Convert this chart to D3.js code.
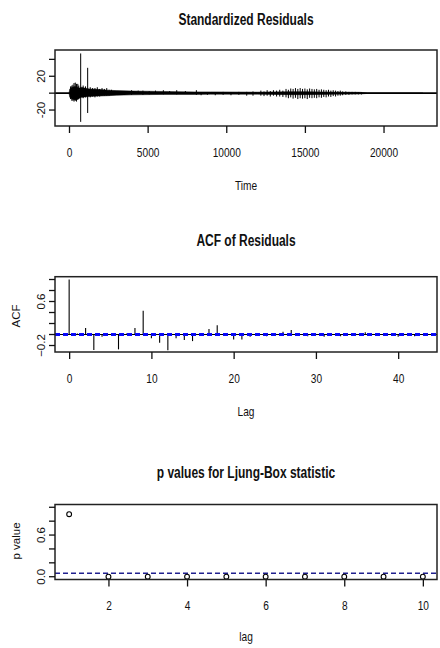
<!DOCTYPE html>
<html><head><meta charset="utf-8">
<script src="https://cdn.jsdelivr.net/npm/d3@7"></script>
<style>
html,body{margin:0;padding:0;background:#fff;}
svg text{font-family:"Liberation Sans",Arial,sans-serif;fill:#111;}
</style></head><body>
<svg id="c" width="440" height="648"></svg>
<script>
// ---------- Panel 1: standardized residuals ----------
// core envelope of the dense residual band
const bandTime  = [0, 50, 200, 380, 550, 650, 800, 1000, 1300, 1800, 2500, 3000, 4000, 6000, 8000, 9000, 12000, 13000, 14000, 15000, 16000, 17000, 18500, 19000, 22500];
const bandUpper = [0, 5, 7, 8, 7, 6, 7, 6, 5, 4.5, 3.5, 3, 2.5, 2, 1.5, 1.5, 1.2, 1.5, 1.8, 1.8, 1.5, 1.2, 1, 0.3, 0.2];
const bandLower = [0, -5, -7, -8, -7, -6, -5, -4.5, -4, -3.5, -3, -2.5, -2, -1.5, -1.5, -1.2, -1.2, -1.5, -1.8, -1.8, -1.5, -1.2, -1, -0.3, -0.2];
// individual spikes of the residual series
const spikeTime = [100, 180, 250, 320, 400, 480, 560, 620, 743, 1187, 900, 1050, 1350, 1500, 1650, 1800, 1950, 2100, 2250, 2400, 2550, 2700,
  3980, 4400, 4700, 5100, 5500, 6000, 6400, 6850, 7400, 8100,
  8400, 8800, 9300, 9800, 10300, 10800, 11300, 11700,
  12200, 12400, 12600, 12800, 13000, 13200, 13400, 13600, 13800, 13950, 14100, 14250, 14400, 14550, 14700, 14850,
  15000, 15150, 15300, 15450, 15600, 15750, 15900, 16050, 16200, 16350, 16500, 16650, 16800, 16950, 17100, 17250,
  17400, 17600, 17800, 18000, 18200, 18400, 18600];
const spikeHigh = [8, 9, 10, 12, 12.5, 11, 11, 9, 47, 30, 9, 8, 7, 6, 6, 7, 5, 6, 5, 6, 4, 4,
  3.5, 3, 3, 2.5, 3, 3.5, 2.5, 3.5, 2.5, 3.5,
  1, 1, 1, 1.5, 1, 1.5, 1.5, 2,
  3, 2, 3.5, 2.5, 3.5, 3, 4, 3, 5, 4, 5.5, 5, 6, 5, 6, 5,
  5.5, 4.5, 5.5, 5, 4.5, 5, 4, 4.5, 4, 3.5, 4, 3, 3.5, 3, 2.5, 3,
  2, 2, 1.5, 1.5, 1.5, 1, 1];
const spikeLow = [-7, -9, -9, -10, -9, -10, -8, -7, -34, -23.5, -6, -5, -5, -4, -5, -4, -4, -3, -3, -3, -3, -2,
  -2, -1, -2, -1.5, -1, -1.5, -1, -1.5, -1, -2,
  -2.5, -2, -2.5, -2, -2.5, -2, -3, -3,
  -3, -3.5, -3, -4, -3, -4, -4, -4.5, -5, -6, -5, -6.5, -5.5, -7, -6, -6.5,
  -6, -7, -5.5, -6, -5.5, -6, -5, -5.5, -4.5, -5, -4, -4.5, -3.5, -4, -3, -3,
  -2.5, -2, -2, -1.5, -1.5, -1.5, -1.5];
const resXTicks = [0, 5000, 10000, 15000, 20000];
const resYTicks = [-20, 0, 20, 40];
const resYLabels = [-20, 20];

// ---------- Panel 2: ACF of residuals (lags 0..43) ----------
const acfValues = [1.0, 0.02, 0.12, -0.28, -0.04, 0.01, -0.27, 0.02, 0.12, 0.43,
  -0.07, -0.15, -0.285, -0.07, -0.10, -0.12, -0.02, 0.10, 0.17, 0.01,
  -0.09, -0.09, -0.04, 0.01, -0.03, 0.01, 0.05, 0.08, 0.01, -0.03,
  0.01, -0.04, 0.01, -0.03, 0.01, 0.01, 0.04, 0.01, -0.01, 0.01,
  -0.04, 0.01, -0.03, 0.01];
const acfCI = [0.013, -0.013];
const acfXTicks = [0, 10, 20, 30, 40];
const acfYTicks = [-0.2, 0, 0.2, 0.4, 0.6, 0.8, 1.0];
const acfYLabels = [-0.2, 0.6];

// ---------- Panel 3: Ljung-Box p values ----------
const pLags = [1, 2, 3, 4, 5, 6, 7, 8, 9, 10];
const pValues = [0.90, 0.0, 0.0, 0.0, 0.0, 0.0, 0.0, 0.0, 0.0, 0.0];
const pThreshold = 0.05;
const pXTicks = [2, 4, 6, 8, 10];
const pYTicks = [0, 0.2, 0.4, 0.6, 0.8, 1.0];
const pYLabels = [0.0, 0.6];

const svg = d3.select("#c");
const L = 55, R = 437;
const SX = 0.75; // horizontal condensing of the text

function frame(g, top, bottom) {
  g.append("rect").attr("x", L).attr("y", top).attr("width", R - L).attr("height", bottom - top)
    .attr("fill", "none").attr("stroke", "#222").attr("stroke-width", 1.5);
}
function xAxis(x, ticks, bottom, fmt) {
  const ax = d3.axisBottom(x).tickValues(ticks).tickSize(7).tickPadding(14).tickFormat(fmt);
  const g = svg.append("g").attr("transform", `translate(0,${bottom})`).call(ax);
  g.select(".domain").remove();
  g.selectAll(".tick line").attr("stroke", "#111").attr("stroke-width", 1.3);
  g.selectAll(".tick text").attr("font-size", 13.5).attr("fill", "#111")
    .attr("font-family", '"Liberation Sans",Arial,sans-serif')
    .attr("transform", `scale(${SX},1)`);
}
function yAxis(y, ticks, labels, fmt) {
  const g = svg.append("g");
  g.selectAll("line").data(ticks).join("line")
    .attr("x1", L - 6).attr("x2", L).attr("y1", d => y(d)).attr("y2", d => y(d))
    .attr("stroke", "#111").attr("stroke-width", 1.3);
  g.selectAll("text").data(labels).join("text")
    .attr("transform", d => `translate(45,${y(d)}) rotate(-90)`)
    .attr("text-anchor", "middle").attr("font-size", 11.5).text(fmt);
}
function title(txt, y) {
  svg.append("text").attr("transform", `translate(${(L + R) / 2},${y}) scale(${SX},1)`)
    .attr("text-anchor", "middle").attr("font-size", 16).attr("font-weight", "bold").text(txt);
}
function xTitle(txt, y) {
  svg.append("text").attr("transform", `translate(${(L + R) / 2},${y}) scale(${SX},1)`)
    .attr("text-anchor", "middle").attr("font-size", 13.5).text(txt);
}
function yTitle(txt, cy) {
  svg.append("text").attr("transform", `translate(20,${cy}) rotate(-90)`).attr("text-anchor", "middle")
    .attr("font-size", 11.5).text(txt);
}

// ===== Panel 1 =====
{
  const top = 50, bottom = 126;
  const x = d3.scaleLinear().domain([-890, 23400]).range([L, R]);
  const y = d3.scaleLinear().domain([-38.9, 51.1]).range([bottom, top]);
  const band = bandTime.map((t, i) => ({t, u: bandUpper[i], l: bandLower[i]}));
  svg.append("path").datum(band)
    .attr("d", d3.area().x(d => x(d.t)).y0(d => y(d.l)).y1(d => y(d.u)))
    .attr("fill", "#000").attr("stroke", "#000").attr("stroke-width", 0.5);
  svg.append("g").selectAll("line").data(spikeTime.map((t, i) => ({t, h: spikeHigh[i], l: spikeLow[i]})))
    .join("line").attr("x1", d => x(d.t)).attr("x2", d => x(d.t))
    .attr("y1", d => y(d.h)).attr("y2", d => y(d.l)).attr("stroke", "#000").attr("stroke-width", 1);
  svg.append("line").attr("x1", L).attr("x2", R).attr("y1", y(0)).attr("y2", y(0))
    .attr("stroke", "#000").attr("stroke-width", 1.6);
  frame(svg, top, bottom);
  xAxis(x, resXTicks, bottom, d3.format("d"));
  yAxis(y, resYTicks, resYLabels, d => String(d));
  title("Standardized Residuals", 25);
  xTitle("Time", 190);
}

// ===== Panel 2 =====
{
  const top = 276.7, bottom = 352;
  const x = d3.scaleLinear().domain([-1.72, 44.72]).range([L, R]);
  const y = d3.scaleLinear().domain([-0.318, 1.051]).range([bottom, top]);
  svg.append("g").selectAll("line").data(acfValues).join("line")
    .attr("x1", (d, i) => x(i)).attr("x2", (d, i) => x(i))
    .attr("y1", y(0)).attr("y2", d => y(d)).attr("stroke", "#000").attr("stroke-width", 1.1);
  svg.append("line").attr("x1", L).attr("x2", R).attr("y1", y(0)).attr("y2", y(0))
    .attr("stroke", "#000").attr("stroke-width", 1);
  svg.append("g").selectAll("line").data(acfCI).join("line")
    .attr("x1", L).attr("x2", R).attr("y1", d => y(d)).attr("y2", d => y(d))
    .attr("stroke", "#0a0aff").attr("stroke-width", 1.8).attr("stroke-dasharray", "5,3");
  frame(svg, top, bottom);
  xAxis(x, acfXTicks, bottom, d3.format("d"));
  yAxis(y, acfYTicks, acfYLabels, d3.format(".1f"));
  title("ACF of Residuals", 246);
  xTitle("Lag", 416);
  yTitle("ACF", 316);
}

// ===== Panel 3 =====
{
  const top = 504.5, bottom = 579.5;
  const x = d3.scaleLinear().domain([0.64, 10.36]).range([L, R]);
  const y = d3.scaleLinear().domain([-0.04, 1.04]).range([bottom, top]);
  svg.append("line").attr("x1", L).attr("x2", R).attr("y1", y(pThreshold)).attr("y2", y(pThreshold))
    .attr("stroke", "#20208f").attr("stroke-width", 1.3).attr("stroke-dasharray", "5,3");
  svg.append("g").selectAll("circle").data(pValues).join("circle")
    .attr("cx", (d, i) => x(pLags[i])).attr("cy", d => y(d)).attr("r", 2.4)
    .attr("fill", "none").attr("stroke", "#000").attr("stroke-width", 1.1);
  frame(svg, top, bottom);
  xAxis(x, pXTicks, bottom, d3.format("d"));
  yAxis(y, pYTicks, pYLabels, d3.format(".1f"));
  title("p values for Ljung-Box statistic", 478);
  xTitle("lag", 641);
  yTitle("p value", 541);
}
</script></body></html>
